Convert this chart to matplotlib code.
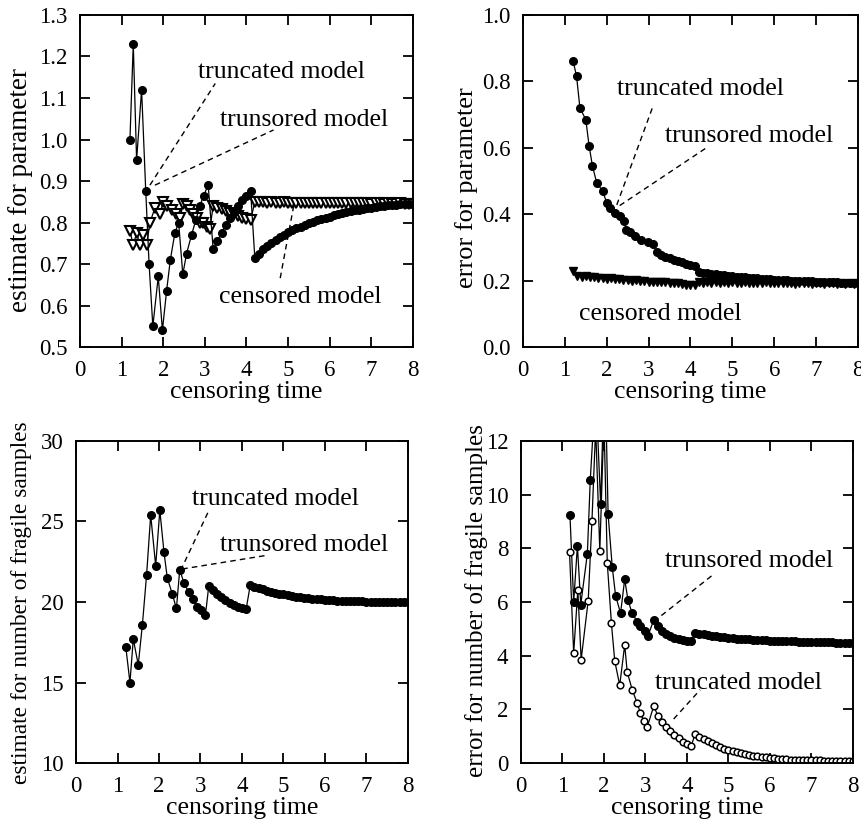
import matplotlib
matplotlib.use('Agg')
import matplotlib.pyplot as plt
import numpy as np

plt.rcParams['font.family'] = ['Liberation Serif', 'DejaVu Serif']
plt.rcParams['font.size'] = 16

# censoring times on the regular part of the grid (after ~3.2)
t_tail = np.round(np.arange(3.2, 8.05, 0.1), 2)

# ---- top left: estimate for parameter
x_tl_dot = [1.2, 1.28, 1.36, 1.48, 1.58, 1.66, 1.75, 1.88, 1.98, 2.08,
            2.17, 2.28, 2.37, 2.47, 2.56, 2.68, 2.78, 2.88, 2.97, 3.08]
y_tl_dot = [1.00, 1.23, 0.95, 1.12, 0.875, 0.70, 0.55, 0.67, 0.54, 0.635,
            0.71, 0.775, 0.80, 0.675, 0.725, 0.77, 0.805, 0.84, 0.865, 0.89]
y_tl_dot_tail = [0.735, 0.755, 0.775, 0.795, 0.81, 0.825, 0.84, 0.855, 0.865, 0.875,
                 0.715, 0.725, 0.735, 0.743, 0.75, 0.757, 0.764, 0.77, 0.776, 0.781,
                 0.786, 0.79, 0.794, 0.798, 0.802, 0.805, 0.808, 0.811, 0.814, 0.817,
                 0.82, 0.822, 0.825, 0.827, 0.829, 0.831, 0.833, 0.835, 0.836, 0.838,
                 0.839, 0.84, 0.841, 0.842, 0.843, 0.844, 0.844, 0.845, 0.845]

x_tl_tri = [1.2, 1.28, 1.36, 1.44, 1.52, 1.6, 1.68, 1.8, 1.92, 2.0, 2.1, 2.2,
            2.3, 2.4, 2.48, 2.56, 2.64, 2.72, 2.8, 2.88, 2.96, 3.04, 3.12]
y_tl_tri = [0.78, 0.745, 0.775, 0.745, 0.77, 0.745, 0.80, 0.835, 0.82, 0.85, 0.84, 0.83,
            0.82, 0.81, 0.845, 0.84, 0.83, 0.82, 0.81, 0.80, 0.80, 0.79, 0.785]
y_tl_tri_tail = [0.84, 0.836, 0.832, 0.828, 0.824, 0.82, 0.816, 0.812, 0.808, 0.805,
                 0.85, 0.849, 0.849, 0.848, 0.849, 0.848, 0.848, 0.849, 0.848, 0.847,
                 0.848, 0.847, 0.848, 0.847, 0.847, 0.848, 0.847, 0.847, 0.846, 0.847,
                 0.847, 0.846, 0.847, 0.846, 0.846, 0.847, 0.846, 0.846, 0.845, 0.846,
                 0.846, 0.845, 0.846, 0.845, 0.845, 0.846, 0.845, 0.845, 0.845]

# ---- top right: error for parameter
x_tr_dot = [1.2, 1.28, 1.36, 1.5, 1.58, 1.66, 1.76, 1.9, 2.0, 2.08,
            2.2, 2.32, 2.41, 2.47, 2.55, 2.67, 2.83, 2.99, 3.1]
y_tr_dot = [0.86, 0.815, 0.72, 0.685, 0.605, 0.545, 0.495, 0.47, 0.435, 0.42,
            0.405, 0.395, 0.38, 0.352, 0.345, 0.335, 0.323, 0.316, 0.31]
y_tr_dot_tail = [0.285, 0.278, 0.272, 0.267, 0.263, 0.259, 0.255, 0.251, 0.248, 0.245,
                 0.226, 0.224, 0.222, 0.221, 0.219, 0.218, 0.216, 0.215, 0.213, 0.212,
                 0.211, 0.21, 0.209, 0.208, 0.207, 0.206, 0.205, 0.204, 0.203, 0.203,
                 0.202, 0.201, 0.2, 0.2, 0.199, 0.199, 0.198, 0.198, 0.197, 0.197,
                 0.196, 0.196, 0.195, 0.195, 0.194, 0.194, 0.194, 0.193, 0.193]

x_tr_cen = [1.2, 1.3, 1.4, 1.5, 1.6, 1.7, 1.8, 1.9, 2.0, 2.1,
            2.2, 2.3, 2.4, 2.5, 2.6, 2.7, 2.8, 2.9, 3.0, 3.1]
y_tr_cen = [0.228, 0.215, 0.212, 0.214, 0.21, 0.211, 0.208, 0.209, 0.206, 0.207,
            0.204, 0.205, 0.202, 0.201, 0.2, 0.201, 0.198, 0.199, 0.197, 0.196]
y_tr_cen_tail = [0.197, 0.195, 0.196, 0.194, 0.193, 0.192, 0.19, 0.188, 0.186, 0.187,
                 0.196, 0.194, 0.195, 0.193, 0.195, 0.194, 0.196, 0.193, 0.195, 0.194,
                 0.193, 0.195, 0.194, 0.192, 0.194, 0.193, 0.195, 0.192, 0.194, 0.193,
                 0.192, 0.194, 0.193, 0.191, 0.193, 0.192, 0.194, 0.191, 0.193, 0.192,
                 0.191, 0.193, 0.192, 0.19, 0.192, 0.191, 0.193, 0.191, 0.192]

# ---- bottom left: estimate for number of fragile samples
x_bl = [1.2, 1.3, 1.38, 1.5, 1.6, 1.7, 1.8, 1.92, 2.02, 2.12,
        2.2, 2.32, 2.42, 2.5, 2.6, 2.72, 2.82, 2.92, 3.02, 3.12]
y_bl = [17.2, 15.0, 17.7, 16.1, 18.6, 21.65, 25.4, 22.25, 25.7, 23.1,
        21.5, 20.5, 19.6, 22.0, 21.2, 20.6, 20.2, 19.7, 19.5, 19.2]
y_bl_tail = [21.0, 20.75, 20.5, 20.3, 20.1, 19.95, 19.8, 19.7, 19.6, 19.55,
             21.05, 20.95, 20.85, 20.78, 20.7, 20.63, 20.57, 20.52, 20.47, 20.42,
             20.38, 20.34, 20.3, 20.27, 20.24, 20.21, 20.18, 20.16, 20.14, 20.12,
             20.1, 20.09, 20.08, 20.07, 20.06, 20.05, 20.04, 20.04, 20.03, 20.03,
             20.02, 20.02, 20.02, 20.01, 20.01, 20.01, 20.0, 20.0, 20.0]

# ---- bottom right: error for number of fragile samples
x_br_trs = [1.18, 1.27, 1.36, 1.44, 1.6, 1.67, 1.8, 1.92, 2.02, 2.1,
            2.2, 2.28, 2.4, 2.5, 2.58, 2.68, 2.8, 2.88, 2.98, 3.06]
y_br_trs = [9.25, 6.0, 8.1, 5.9, 7.8, 10.55, 14.0, 9.65, 15.0, 9.27,
            7.3, 6.24, 5.58, 6.85, 6.06, 5.58, 5.27, 5.09, 4.91, 4.73]
y_br_trs_tail = [5.33, 5.09, 4.92, 4.8, 4.72, 4.66, 4.61, 4.58, 4.55, 4.53,
                 4.85, 4.82, 4.79, 4.76, 4.74, 4.72, 4.7, 4.68, 4.67, 4.65,
                 4.64, 4.63, 4.62, 4.61, 4.6, 4.59, 4.58, 4.57, 4.56, 4.56,
                 4.55, 4.54, 4.54, 4.53, 4.53, 4.52, 4.52, 4.51, 4.51, 4.51,
                 4.5, 4.5, 4.5, 4.5, 4.49, 4.49, 4.49, 4.49, 4.48]

x_br_trc = [1.17, 1.27, 1.37, 1.45, 1.62, 1.71, 1.8, 1.9, 2.0, 2.08,
            2.18, 2.26, 2.38, 2.5, 2.56, 2.68, 2.8, 2.88, 2.96, 3.04]
y_br_trc = [7.85, 4.1, 6.45, 3.85, 6.05, 9.0, 12.5, 7.9, 12.8, 7.45,
            5.2, 3.8, 2.9, 4.4, 3.4, 2.73, 2.24, 1.85, 1.58, 1.33]
y_br_trc_tail = [2.12, 1.76, 1.52, 1.35, 1.2, 1.05, 0.92, 0.8, 0.7, 0.62,
                 1.1, 0.98, 0.9, 0.82, 0.74, 0.66, 0.6, 0.54, 0.49, 0.44,
                 0.4, 0.36, 0.32, 0.29, 0.27, 0.25, 0.23, 0.21, 0.2, 0.18,
                 0.16, 0.15, 0.14, 0.13, 0.12, 0.12, 0.11, 0.11, 0.1, 0.1,
                 0.1, 0.09, 0.09, 0.09, 0.09, 0.08, 0.08, 0.08, 0.08]

xticks = np.arange(0, 9, 1)


def join(x_early, y_early, y_tail):
    return np.concatenate([x_early, t_tail]), np.concatenate([y_early, y_tail])


def setup(ax, ylim, yticks, yfmt, ylabel, lab_size, lab_x, lab_y):
    ax.set_xlim(0, 8)
    ax.set_ylim(*ylim)
    ax.set_xticks(xticks)
    ax.set_yticks(yticks)
    ax.set_yticklabels([yfmt % v for v in yticks])
    ax.tick_params(direction='in', top=True, right=True, length=7, width=1.3,
                   labelsize=16.5, pad=9)
    for s in ax.spines.values():
        s.set_linewidth(1.4)
    ax.set_xlabel('censoring time', fontsize=18.5, labelpad=0)
    ax.set_ylabel(ylabel, fontsize=lab_size)
    ax.yaxis.set_label_coords(lab_x, lab_y)


def note(ax, text, tx, ty, line=None):
    ax.text(tx, ty, text, fontsize=18.5, ha='left', va='center')
    if line is not None:
        ax.plot(line[0], line[1], color='k', lw=1.0, dashes=(4, 3))


fig = plt.figure(figsize=(8.62, 8.33), dpi=100)
ax1 = fig.add_axes([0.0928, 0.5834, 0.3863, 0.3986])
ax2 = fig.add_axes([0.6067, 0.5834, 0.3886, 0.3986])
ax3 = fig.add_axes([0.0882, 0.084, 0.385, 0.3866])
ax4 = fig.add_axes([0.6044, 0.084, 0.385, 0.3866])

dot = dict(color='k', lw=0.9, marker='o', markersize=5.5, markerfacecolor='k')
opn = dict(color='k', lw=0.9, marker='o', markersize=4.8, markerfacecolor='white',
           markeredgewidth=1.1)
tri = dict(color='k', lw=0.9, marker='v', markersize=6.5, markerfacecolor='white',
           markeredgewidth=1.5)

# top left
x, y = join(x_tl_tri, y_tl_tri, y_tl_tri_tail)
ax1.plot(x, y, **tri)
x, y = join(x_tl_dot, y_tl_dot, y_tl_dot_tail)
ax1.plot(x, y, **dot)
setup(ax1, (0.5, 1.3), np.round(np.arange(0.5, 1.31, 0.1), 1), '%.1f',
      'estimate for parameter', 19.5, -0.141, 0.473)
note(ax1, 'truncated model', 2.84, 1.163, ([1.68, 3.25], [0.89, 1.135]))
note(ax1, 'trunsored model', 3.37, 1.047, ([1.8, 4.65], [0.89, 1.023]))
note(ax1, 'censored model', 3.34, 0.621, ([4.81, 5.13], [0.666, 0.838]))

# top right
x, y = join(x_tr_cen, y_tr_cen, y_tr_cen_tail)
ax2.plot(x, y, color='k', lw=0.9, marker='v', markersize=6,
         markerfacecolor='k', markeredgewidth=1.0)
x, y = join(x_tr_dot, y_tr_dot, y_tr_dot_tail)
ax2.plot(x, y, **dot)
setup(ax2, (0.0, 1.0), np.round(np.arange(0, 1.01, 0.2), 1), '%.1f',
      'error for parameter', 19, -0.134, 0.48)
note(ax2, 'truncated model', 2.24, 0.777, ([2.24, 3.11], [0.428, 0.727]))
note(ax2, 'trunsored model', 3.39, 0.636, ([2.31, 4.38], [0.426, 0.60]))
note(ax2, 'censored model', 1.34, 0.10)

# bottom left
x, y = join(x_bl, y_bl, y_bl_tail)
ax3.plot(x, y, **dot)
setup(ax3, (10, 30), np.arange(10, 31, 5), '%d',
      'estimate for number of fragile samples', 16.8, -0.133, 0.497)
note(ax3, 'truncated model', 2.8, 26.38, ([2.52, 3.2], [21.95, 25.67]))
note(ax3, 'trunsored model', 3.48, 23.56, ([2.56, 4.6], [22.05, 22.9]))

# bottom right
x, y = join(x_br_trs, y_br_trs, y_br_trs_tail)
ax4.plot(x, y, **dot)
x, y = join(x_br_trc, y_br_trc, y_br_trc_tail)
ax4.plot(x, y, **opn)
setup(ax4, (0, 12), np.arange(0, 13, 2), '%d',
      'error for number of fragile samples', 18, -0.099, 0.503)
note(ax4, 'trunsored model', 3.48, 7.52, ([3.2, 4.64], [5.27, 7.03]))
note(ax4, 'truncated model', 3.24, 2.97, ([3.68, 4.32], [1.64, 2.73]))

fig.savefig('out.png', dpi=100)
